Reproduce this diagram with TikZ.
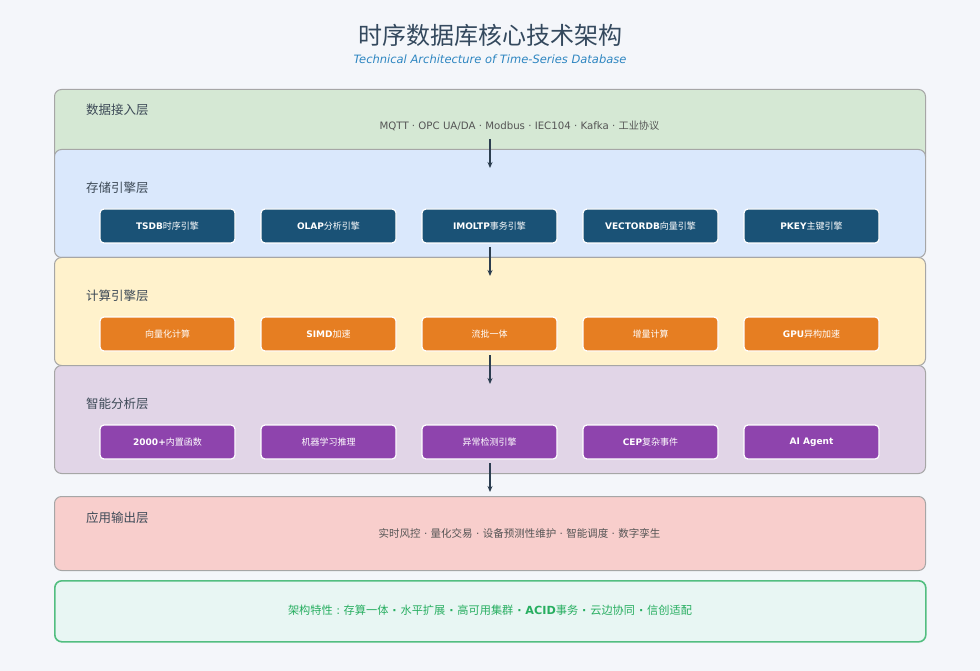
\documentclass[tikz,border=0pt]{standalone}
\usepackage{fontspec}
\setmainfont{DejaVu Sans}
\newfontfamily\cjk{Noto Sans CJK SC}
\newfontfamily\lat{DejaVu Sans}
\newcommand{\dsep}{{\lat\ ·\ }}
\newcommand{\bsep}{{\lat\bfseries\ ·\ }}
\usetikzlibrary{arrows.meta}
\definecolor{bgc}{HTML}{F4F6FA}
\definecolor{titlec}{HTML}{34495E}
\definecolor{subc}{HTML}{2E86C1}
\definecolor{lgreen}{HTML}{D5E8D4}
\definecolor{lblue}{HTML}{DAE8FC}
\definecolor{lyellow}{HTML}{FFF2CC}
\definecolor{lpurple}{HTML}{E1D5E7}
\definecolor{lred}{HTML}{F8CECC}
\definecolor{lborder}{HTML}{A6A6A6}
\definecolor{bblue}{HTML}{1A5276}
\definecolor{borange}{HTML}{E67E22}
\definecolor{bpurple}{HTML}{8E44AD}
\definecolor{ffill}{HTML}{E8F6F3}
\definecolor{fborder}{HTML}{52BE80}
\definecolor{ftext}{HTML}{27AE60}
\definecolor{txtc}{HTML}{555555}
\definecolor{lblc}{HTML}{3D4A57}
\definecolor{arrc}{HTML}{2C3E50}
\tikzset{
  layerbox/.style={draw=lborder, line width=1pt, rounded corners=7pt, anchor=north west, minimum width=871pt, inner sep=0pt},
  layerlbl/.style={anchor=west, text=lblc, font=\fontsize{12.5}{14}\selectfont, inner sep=0pt},
  desc/.style={text=txtc, font=\fontsize{10.2}{12}\selectfont, inner sep=0pt},
  modbox/.style={draw=white, line width=1.2pt, rounded corners=4pt, minimum width=135pt, minimum height=34pt, text=white, font=\fontsize{9}{11}\selectfont\bfseries, inner sep=0pt},
  flowarr/.style={draw=arrc, line width=1.5pt, -{Stealth[length=6pt,width=5pt]}},
}
\begin{document}
\begin{tikzpicture}[x=1pt,y=-1pt]
\useasboundingbox[fill=bgc] (0,0) rectangle (980,671);
\node[text=titlec, font=\fontsize{24}{28}\selectfont\cjk] (title) at (490,35) {时序数据库核心技术架构};
\node[text=subc, font=\fontsize{11.5}{13}\selectfont\itshape] (subtitle) at (490,59) {Technical Architecture of Time-Series Database};

% layers
\node[layerbox, fill=lgreen, minimum height=74pt] (L1) at (54,89) {};
\node[layerlbl] (L1t) at (86,110) {\cjk 数据接入层};
\node[desc] (L1d) at (519.5,126) {MQTT · OPC UA/DA · Modbus · IEC104 · Kafka · {\cjk 工业协议}};

\node[layerbox, fill=lblue, minimum height=108pt] (L2) at (54,149) {};
\node[layerlbl] (L2t) at (86,188) {\cjk 存储引擎层};
\node[modbox, fill=bblue] (s1) at (167.5,226) {TSDB{\cjk\mdseries 时序引擎}};
\node[modbox, fill=bblue] (s2) at (328.5,226) {OLAP{\cjk\mdseries 分析引擎}};
\node[modbox, fill=bblue] (s3) at (489.5,226) {IMOLTP{\cjk\mdseries 事务引擎}};
\node[modbox, fill=bblue] (s4) at (650.5,226) {VECTORDB{\cjk\mdseries 向量引擎}};
\node[modbox, fill=bblue] (s5) at (811.5,226) {PKEY{\cjk\mdseries 主键引擎}};

\node[layerbox, fill=lyellow, minimum height=108pt] (L3) at (54,257) {};
\node[layerlbl] (L3t) at (86,296) {\cjk 计算引擎层};
\node[modbox, fill=borange] (c1) at (167.5,334) {\cjk\mdseries 向量化计算};
\node[modbox, fill=borange] (c2) at (328.5,334) {SIMD{\cjk\mdseries 加速}};
\node[modbox, fill=borange] (c3) at (489.5,334) {\cjk\mdseries 流批一体};
\node[modbox, fill=borange] (c4) at (650.5,334) {\cjk\mdseries 增量计算};
\node[modbox, fill=borange] (c5) at (811.5,334) {GPU{\cjk\mdseries 异构加速}};

\node[layerbox, fill=lpurple, minimum height=108pt] (L4) at (54,365) {};
\node[layerlbl] (L4t) at (86,404) {\cjk 智能分析层};
\node[modbox, fill=bpurple] (a1) at (167.5,442) {2000+{\cjk\mdseries 内置函数}};
\node[modbox, fill=bpurple] (a2) at (328.5,442) {\cjk\mdseries 机器学习推理};
\node[modbox, fill=bpurple] (a3) at (489.5,442) {\cjk\mdseries 异常检测引擎};
\node[modbox, fill=bpurple] (a4) at (650.5,442) {CEP{\cjk\mdseries 复杂事件}};
\node[modbox, fill=bpurple] (a5) at (811.5,442) {AI Agent};

\node[layerbox, fill=lred, minimum height=74pt] (L5) at (54,496) {};
\node[layerlbl] (L5t) at (86,518) {\cjk 应用输出层};
\node[desc, font=\fontsize{10.5}{12}\selectfont\cjk] (L5d) at (519.5,533) {实时风控\dsep 量化交易\dsep 设备预测性维护\dsep 智能调度\dsep 数字孪生};

\node[draw=fborder, line width=1.6pt, fill=ffill, rounded corners=7pt, anchor=north west, minimum width=871pt, minimum height=61pt, inner sep=0pt] (F) at (54,580) {};
\node[text=ftext, font=\fontsize{11.2}{13}\selectfont\cjk, inner sep=0pt] (Ft) at (490,610) {架构特性{\lat\ :\ }存算一体\bsep 水平扩展\bsep 高可用集群\bsep {\lat\bfseries ACID}事务\bsep 云边协同\bsep 信创适配};

% arrows
\coordinate (a1s) at (490,139); \coordinate (a1e) at (490,168);
\coordinate (a2s) at (490,247); \coordinate (a2e) at (490,276);
\coordinate (a3s) at (490,355); \coordinate (a3e) at (490,384);
\coordinate (a4s) at (490,463); \coordinate (a4e) at (490,492);
\draw[flowarr] (a1s) -- (a1e);
\draw[flowarr] (a2s) -- (a2e);
\draw[flowarr] (a3s) -- (a3e);
\draw[flowarr] (a4s) -- (a4e);
\end{tikzpicture}
\end{document}
